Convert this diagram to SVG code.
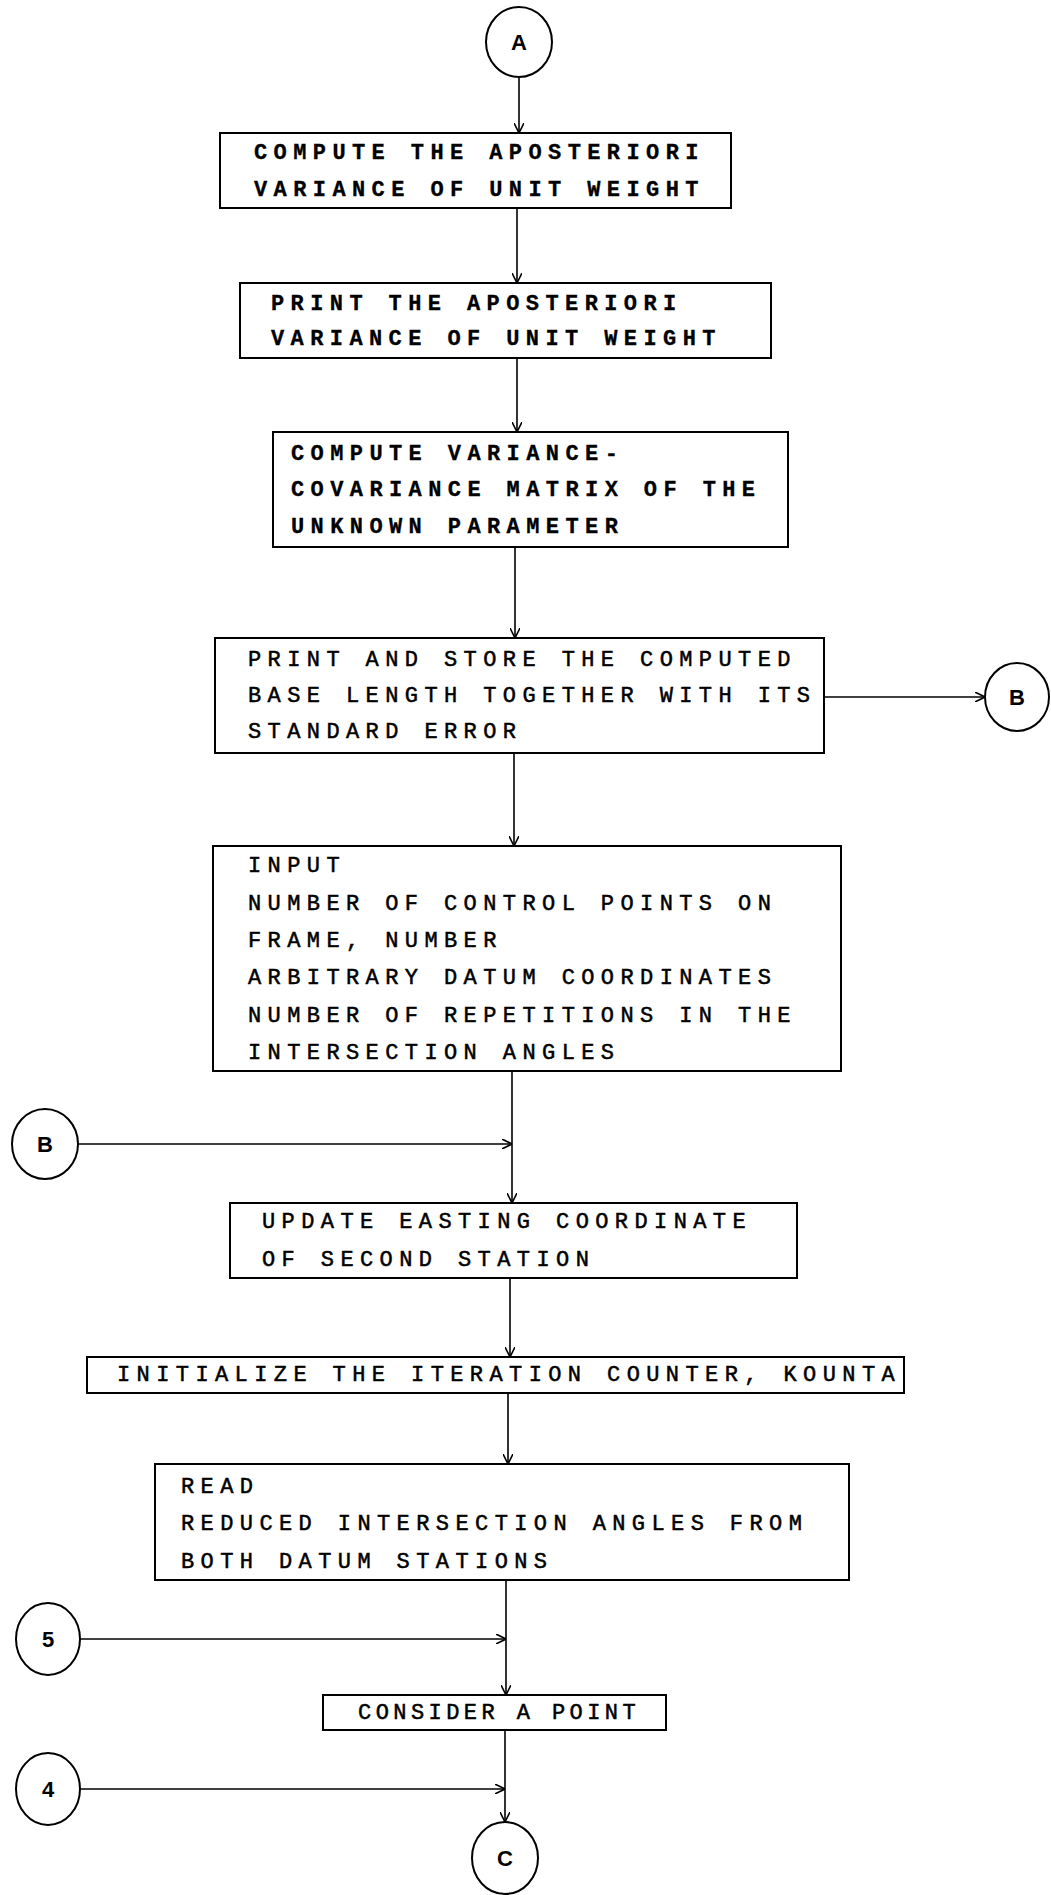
<svg xmlns="http://www.w3.org/2000/svg" width="1051" height="1895" viewBox="0 0 1051 1895">
  <style>
    .box { fill: #fff; stroke: #000; stroke-width: 2; }
    .conn { fill: none; stroke: #000; stroke-width: 1.6; }
    .ring { fill: #fff; stroke: #000; stroke-width: 2; }
    .t { font-family: "Liberation Mono", "DejaVu Sans Mono", monospace; font-size: 22px; letter-spacing: 6.4px; fill: #000; stroke: #000; stroke-width: 0.5; }
    .tb { font-weight: bold; stroke-width: 0.3; }
    .lbl { font-family: "Liberation Sans", Arial, sans-serif; font-size: 22px; font-weight: bold; text-anchor: middle; fill: #000; }
  </style>
  <defs>
    <marker id="arr" viewBox="0 0 10 10" refX="10" refY="5" markerWidth="10" markerHeight="10" markerUnits="userSpaceOnUse" orient="auto">
      <path d="M0,0 L10,5 L0,10" fill="none" stroke="#000" stroke-width="1.6"/>
    </marker>
  </defs>
  <rect width="1051" height="1895" fill="#fff"/>

  <!-- connectors -->
  <g id="connectors" class="conn">
    <line x1="519" y1="77" x2="519" y2="133" marker-end="url(#arr)"/>
    <line x1="517" y1="208" x2="517" y2="283" marker-end="url(#arr)"/>
    <line x1="517" y1="358" x2="517" y2="432" marker-end="url(#arr)"/>
    <line x1="515" y1="547" x2="515" y2="638" marker-end="url(#arr)"/>
    <line x1="824" y1="697" x2="985" y2="697" marker-end="url(#arr)"/>
    <line x1="514" y1="753" x2="514" y2="846" marker-end="url(#arr)"/>
    <line x1="512" y1="1071" x2="512" y2="1203" marker-end="url(#arr)"/>
    <line x1="79" y1="1144" x2="512" y2="1144" marker-end="url(#arr)"/>
    <line x1="510" y1="1278" x2="510" y2="1357" marker-end="url(#arr)"/>
    <line x1="508" y1="1393" x2="508" y2="1464" marker-end="url(#arr)"/>
    <line x1="506" y1="1580" x2="506" y2="1695" marker-end="url(#arr)"/>
    <line x1="80" y1="1639" x2="506" y2="1639" marker-end="url(#arr)"/>
    <line x1="505" y1="1730" x2="505" y2="1822" marker-end="url(#arr)"/>
    <line x1="80" y1="1789" x2="505" y2="1789" marker-end="url(#arr)"/>
  </g>

  <g id="conn-A">
    <ellipse class="ring" cx="519" cy="42" rx="33" ry="35"/>
    <text class="lbl" x="519" y="50">A</text>
  </g>

  <g id="n1">
    <rect class="box" x="220" y="133" width="511" height="75"/>
    <text class="t tb" x="254" y="159">COMPUTE THE APOSTERIORI</text>
    <text class="t tb" x="254" y="196">VARIANCE OF UNIT WEIGHT</text>
  </g>

  <g id="n2">
    <rect class="box" x="240" y="283" width="531" height="75"/>
    <text class="t tb" x="271" y="310">PRINT THE APOSTERIORI</text>
    <text class="t tb" x="271" y="345">VARIANCE OF UNIT WEIGHT</text>
  </g>

  <g id="n3">
    <rect class="box" x="273" y="432" width="515" height="115"/>
    <text class="t tb" x="291" y="460">COMPUTE VARIANCE-</text>
    <text class="t tb" x="291" y="496">COVARIANCE MATRIX OF THE</text>
    <text class="t tb" x="291" y="533">UNKNOWN PARAMETER</text>
  </g>

  <g id="n4">
    <rect class="box" x="215" y="638" width="609" height="115"/>
    <text class="t" x="248" y="666">PRINT AND STORE THE COMPUTED</text>
    <text class="t" x="248" y="702">BASE LENGTH TOGETHER WITH ITS</text>
    <text class="t" x="248" y="738">STANDARD ERROR</text>
  </g>

  <g id="conn-B-out">
    <ellipse class="ring" cx="1017" cy="697" rx="32" ry="34"/>
    <text class="lbl" x="1017" y="705">B</text>
  </g>

  <g id="n5">
    <rect class="box" x="213" y="846" width="628" height="225"/>
    <text class="t" x="248" y="872">INPUT</text>
    <text class="t" x="248" y="910">NUMBER OF CONTROL POINTS ON</text>
    <text class="t" x="248" y="947">FRAME, NUMBER</text>
    <text class="t" x="248" y="984">ARBITRARY DATUM COORDINATES</text>
    <text class="t" x="248" y="1022">NUMBER OF REPETITIONS IN THE</text>
    <text class="t" x="248" y="1059">INTERSECTION ANGLES</text>
  </g>

  <g id="conn-B-in">
    <ellipse class="ring" cx="45" cy="1144" rx="33" ry="35"/>
    <text class="lbl" x="45" y="1152">B</text>
  </g>

  <g id="n6">
    <rect class="box" x="230" y="1203" width="567" height="75"/>
    <text class="t" x="262" y="1228">UPDATE EASTING COORDINATE</text>
    <text class="t" x="262" y="1266">OF SECOND STATION</text>
  </g>

  <g id="n7">
    <rect class="box" x="87" y="1357" width="817" height="36"/>
    <text class="t" x="117" y="1381">INITIALIZE THE ITERATION COUNTER, KOUNTA</text>
  </g>

  <g id="n8">
    <rect class="box" x="155" y="1464" width="694" height="116"/>
    <text class="t" x="181" y="1493">READ</text>
    <text class="t" x="181" y="1530">REDUCED INTERSECTION ANGLES FROM</text>
    <text class="t" x="181" y="1568">BOTH DATUM STATIONS</text>
  </g>

  <g id="conn-5">
    <ellipse class="ring" cx="48" cy="1639" rx="32" ry="36"/>
    <text class="lbl" x="48" y="1647">5</text>
  </g>

  <g id="n9">
    <rect class="box" x="323" y="1695" width="343" height="35"/>
    <text class="t" x="358" y="1719" textLength="284" lengthAdjust="spacing">CONSIDER A POINT</text>
  </g>

  <g id="conn-4">
    <ellipse class="ring" cx="48" cy="1789" rx="32" ry="36"/>
    <text class="lbl" x="48" y="1797">4</text>
  </g>

  <g id="conn-C">
    <ellipse class="ring" cx="505" cy="1858" rx="33" ry="36"/>
    <text class="lbl" x="505" y="1866">C</text>
  </g>
</svg>
